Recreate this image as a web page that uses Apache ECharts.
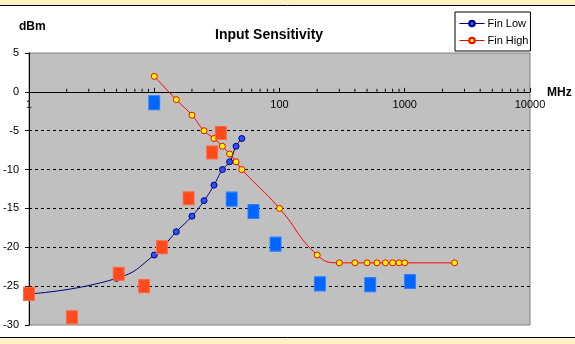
<!DOCTYPE html>
<html>
<head>
<meta charset="utf-8">
<script src="https://cdn.jsdelivr.net/npm/echarts@6/dist/echarts.min.js"></script>
<style>html,body{margin:0;padding:0;background:#fff}#c{width:575px;height:344px}</style>
</head>
<body>
<div id="c"></div>
<script>
const finLowX = [1, 5, 10, 15, 20, 25, 30, 35, 40, 45, 50];
const finLowY = [-26, -24, -21, -18, -16, -14, -12, -10, -9, -7, -6];
const finHighX = [10, 15, 20, 25, 30, 35, 40, 45, 50, 100, 200, 300, 400, 500, 600, 700, 800, 900, 1000, 2500];
const finHighY = [2, -1, -3, -5, -6, -7, -8, -9, -10, -15, -21, -22, -22, -22, -22, -22, -22, -22, -22, -22];
const orangeX = [1, 2.2, 5.2, 8.3, 11.5, 18.8, 29, 34];
const orangeY = [-26, -29, -23.4, -25, -20, -13.7, -7.8, -5.3];
const blueX = [10, 41.5, 62, 93, 210, 530, 1100];
const blueY = [-1.4, -13.8, -15.4, -19.6, -24.7, -24.8, -24.4];
const xTickLabels = ['1', '10', '100', '1000', '10000'];
const yTickLabels = ['5', '0', '-5', '-10', '-15', '-20', '-25', '-30'];
const minorTickValues = [2,3,4,5,6,7,8,9,20,30,40,50,60,70,80,90,200,300,400,500,600,700,800,900,2000,3000,4000,5000,6000,7000,8000,9000];

const zip = (xs, ys) => xs.map((x, i) => [x, ys[i]]);
const FONT = 'Arial, "Liberation Sans", sans-serif';

const Y_MIN = -30, Y_MAX = 5;
const GRID_TOP = 53, GRID_BOTTOM = 19, H = 344;
const plotH = H - GRID_TOP - GRID_BOTTOM;
const zeroOffset = -plotH * (0 - Y_MIN) / (Y_MAX - Y_MIN);

const chart = echarts.init(document.getElementById('c'), null, {renderer: 'canvas'});
chart.setOption({
  animation: false,
  backgroundColor: '#fff',
  textStyle: {fontFamily: FONT},
  title: {
    text: 'Input Sensitivity', left: 215, top: 28, padding: 0,
    textStyle: {fontSize: 14, fontWeight: 'bold', color: '#000', fontFamily: FONT}
  },
  legend: {
    data: ['Fin Low', 'Fin High'],
    orient: 'vertical', left: 455, top: 12,
    padding: [6, 2, 5, 4], itemGap: 6, itemWidth: 25, itemHeight: 7,
    borderColor: '#000', borderWidth: 1, backgroundColor: '#fff', borderRadius: 0,
    lineStyle: {width: 1},
    textStyle: {fontSize: 11, color: '#000', fontFamily: FONT, padding: [0, 0, 0, -2]}
  },
  grid: {
    left: 29, right: 45, top: GRID_TOP, bottom: GRID_BOTTOM,
    show: true, backgroundColor: '#C0C0C0', borderColor: '#808080', borderWidth: 1
  },
  xAxis: {
    type: 'log', logBase: 10, min: 1, max: 10000,
    position: 'bottom', offset: zeroOffset,
    axisLine: {onZero: false, lineStyle: {color: '#000', width: 1}},
    axisTick: {show: true, inside: true, length: 4, lineStyle: {color: '#000'}},
    axisLabel: {
      margin: 8, fontSize: 11, color: '#000', fontFamily: FONT,
      formatter: v => { const i = Math.round(Math.log10(v)); return xTickLabels[i] !== undefined ? xTickLabels[i] : ''; }
    },
    splitLine: {show: false}
  },
  yAxis: {
    type: 'value', min: Y_MIN, max: Y_MAX, interval: 5,
    axisLine: {show: true, onZero: false, lineStyle: {color: '#000', width: 1}},
    axisTick: {show: true, length: 4, lineStyle: {color: '#000'}},
    axisLabel: {
      margin: 10, fontSize: 11, color: '#000', fontFamily: FONT,
      formatter: v => { const i = Math.round((5 - v) / 5); return yTickLabels[i]; }
    },
    splitLine: {show: true, showMinLine: false, showMaxLine: false, lineStyle: {color: '#000', type: [3, 3], width: 1}}
  },
  series: [
    {
      name: 'minorTicks', type: 'scatter', silent: true, z: 3,
      data: minorTickValues.map(v => [v, 0]),
      symbol: 'rect', symbolSize: [1, 3], symbolOffset: [0, -1.5],
      itemStyle: {color: '#000', opacity: 1}
    },
    {
      name: 'Fin Low', type: 'line', data: zip(finLowX, finLowY), smooth: 0.5,
      symbol: 'circle', symbolSize: 6,
      lineStyle: {color: '#000080', width: 1},
      itemStyle: {color: '#3050FF', borderColor: '#000080', borderWidth: 1},
      z: 4
    },
    {
      name: 'Fin High', type: 'line', data: zip(finHighX, finHighY), smooth: 0.5,
      symbol: 'circle', symbolSize: 6,
      lineStyle: {color: '#FF0000', width: 1},
      itemStyle: {color: '#FFFF00', borderColor: '#FF0000', borderWidth: 1},
      z: 4
    },
    {
      name: 'Orange', type: 'scatter', data: zip(orangeX, orangeY),
      symbol: 'rect', symbolSize: [11, 13],
      itemStyle: {color: '#FF4A1E', borderColor: '#FF6A45', borderWidth: 1, opacity: 1},
      z: 5
    },
    {
      name: 'Blue', type: 'scatter', data: zip(blueX, blueY),
      symbol: 'rect', symbolSize: [11, 14],
      itemStyle: {color: '#0066FF', borderColor: '#2A80FF', borderWidth: 1, opacity: 1},
      z: 5
    }
  ],
  graphic: [
    {type: 'rect', left: 0, top: 0, shape: {width: 575, height: 5}, style: {fill: '#FFF1C6'}, silent: true},
    {type: 'line', shape: {x1: 0, y1: 5.5, x2: 575, y2: 5.5}, style: {stroke: '#000', lineWidth: 1}, silent: true},
    {type: 'rect', left: 0, top: 338, shape: {width: 575, height: 6}, style: {fill: '#FFF1C6'}, silent: true},
    {type: 'line', shape: {x1: 0, y1: 337.5, x2: 575, y2: 337.5}, style: {stroke: '#000', lineWidth: 1}, silent: true},
    {type: 'text', left: 19, top: 21, style: {text: 'dBm', fontSize: 12, fontWeight: 'bold', fill: '#000', fontFamily: FONT}},
    {type: 'text', left: 547, top: 87, style: {text: 'MHz', fontSize: 12, fontWeight: 'bold', fill: '#000', fontFamily: FONT}}
  ]
});
</script>
</body>
</html>
